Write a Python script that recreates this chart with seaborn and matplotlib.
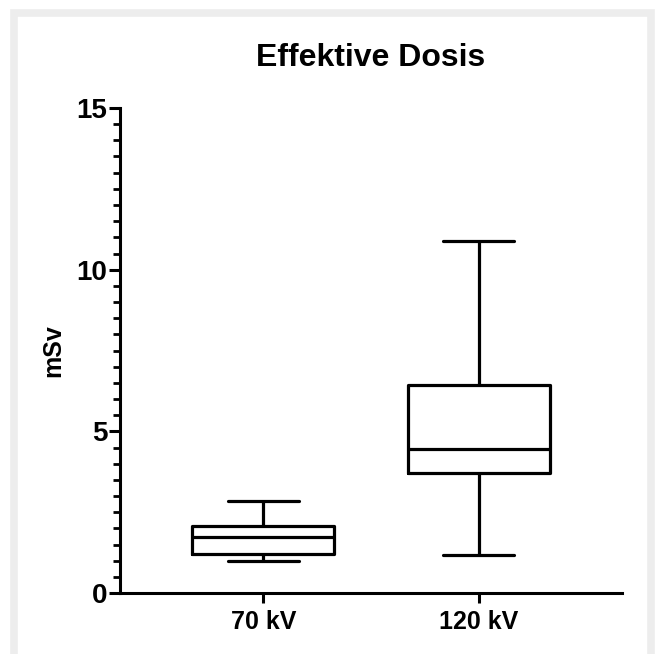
import matplotlib
matplotlib.use("Agg")
import matplotlib.pyplot as plt
import matplotlib.patches as patches
from matplotlib.ticker import MultipleLocator
import seaborn as sns
import pandas as pd

# five-number summaries (min, q1, median, q3, max)
groups = ["70 kV", "120 kV"]
dose_70kv = [0.99, 1.22, 1.74, 2.08, 2.85]
dose_120kv = [1.18, 3.71, 4.45, 6.43, 10.9]
y_ticks = [0, 5, 10, 15]

sns.set_theme(style="ticks")
plt.rcParams["font.family"] = ["Liberation Sans", "DejaVu Sans"]
plt.rcParams["font.weight"] = "bold"
plt.rcParams["text.color"] = "black"
plt.rcParams["axes.labelcolor"] = "black"
plt.rcParams["xtick.color"] = "black"
plt.rcParams["ytick.color"] = "black"

df = pd.DataFrame({
    "Gruppe": [groups[0]] * len(dose_70kv) + [groups[1]] * len(dose_120kv),
    "mSv": dose_70kv + dose_120kv,
})

fig = plt.figure(figsize=(6.55, 6.54), dpi=100)
ax = fig.add_axes([120 / 655, 1 - 593 / 654, 502 / 655, 485 / 654])

sns.boxplot(data=df, x="Gruppe", y="mSv", order=groups, whis=(0, 100),
            fill=False, color="black", linewidth=2.3, width=0.66,
            linecolor="black", ax=ax)

ax.set_xlim(-0.665, 1.665)
ax.set_ylim(0, 15)
ax.set_yticks(y_ticks)
ax.yaxis.set_minor_locator(MultipleLocator(0.5))
ax.set_xlabel("")
ax.set_ylabel("mSv", fontsize=18, fontweight="bold", labelpad=8, color="black")
ax.set_title("Effektive Dosis", fontsize=23, fontweight="bold", pad=30, color="black")

sns.despine(ax=ax)
for side in ["left", "bottom"]:
    ax.spines[side].set_linewidth(2.2)
    ax.spines[side].set_color("black")
ax.tick_params(axis="y", which="major", length=8, width=2.2, labelsize=20, pad=1)
ax.tick_params(axis="y", which="minor", length=5, width=2.0)
ax.tick_params(axis="x", which="major", length=7, width=2.2, labelsize=18, pad=5)
for lab in ax.get_xticklabels() + ax.get_yticklabels():
    lab.set_fontweight("bold")
    lab.set_color("black")

# light grey frame around the picture (runs off the right and bottom edges)
frame = patches.Rectangle((14 / 655, -20 / 654), 637 / 655, 661 / 654,
                          transform=fig.transFigure, fill=False,
                          edgecolor="#ededed", linewidth=5.5, zorder=0)
fig.patches.append(frame)

fig.savefig("out.png", dpi=100)
